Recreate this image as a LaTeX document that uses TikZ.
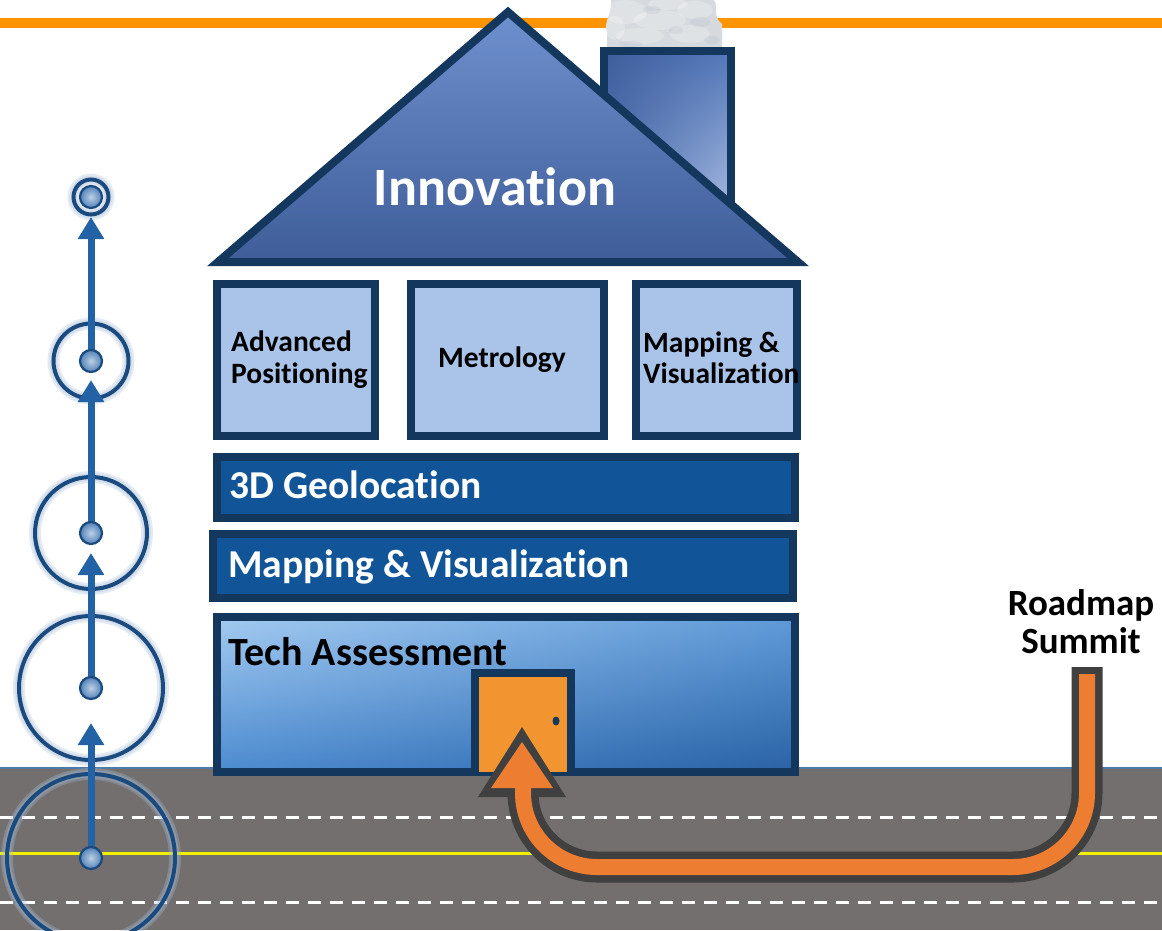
\documentclass[tikz,border=0pt]{standalone}
\usepackage{fontspec}
\setmainfont{Carlito}[Ligatures={NoCommon,NoContextual,NoRequired}, Contextuals=NoAlternate]
\usetikzlibrary{arrows.meta,shadings}

\definecolor{navy}{HTML}{14375E}
\definecolor{topline}{HTML}{FF9400}
\definecolor{roofA}{HTML}{6F90CE}
\definecolor{roofB}{HTML}{3E5D99}
\definecolor{chimA}{HTML}{3F5D9B}
\definecolor{chimB}{HTML}{5478BA}
\definecolor{chimC}{HTML}{B2C3E4}
\definecolor{paleblue}{HTML}{AAC3E8}
\definecolor{barblue}{HTML}{115598}
\definecolor{groundUL}{HTML}{A3CAF0}
\definecolor{groundUR}{HTML}{5F9AD8}
\definecolor{groundLL}{HTML}{4C8BD0}
\definecolor{groundLR}{HTML}{2A62A5}
\definecolor{roadgray}{HTML}{736F6E}
\definecolor{roadedge}{HTML}{4F79A8}
\definecolor{laneyellow}{HTML}{F0F000}
\definecolor{doororange}{HTML}{F29531}
\definecolor{arrorange}{HTML}{ED7D31}
\definecolor{arrdark}{HTML}{404040}
\definecolor{stepblue}{HTML}{2462A6}
\definecolor{ringnavy}{HTML}{1B4A7E}
\definecolor{ringglow}{HTML}{A9C0DA}
\definecolor{smokegray}{HTML}{D6DADE}
\definecolor{smokeblue}{HTML}{B3C0CC}

\newcommand\setfs[1]{\fontsize{#1}{#1}\selectfont\bfseries}
% keeps "t" and "i" as separate glyphs
\newcommand\sep{\kern0pt}

\tikzset{
  housepart/.style={draw=navy, line width=8pt, line join=miter},
  tile/.style={housepart, fill=paleblue},
  band/.style={housepart, fill=barblue},
  label/.style={inner sep=0pt, anchor=base west},
  darktext/.style={label, text=black},
  lighttext/.style={label, text=white},
  ring/.style={draw=ringnavy, line width=4pt},
  ringhalo/.style={draw=ringglow, opacity=0.3},
  ball/.style={circle, minimum size=22pt, inner sep=0pt, draw=ringnavy,
    line width=2.2pt, inner color=white!70!stepblue, outer color=stepblue!80!white},
  steparrow/.style={draw=stepblue, line width=7pt,
    -{Triangle[length=22pt, width=25pt]}},
  dash lane/.style={draw=white, line width=3pt, dash pattern=on 13pt off 9pt}
}

\begin{document}
\begin{tikzpicture}[x=1pt, y=-1pt]
\useasboundingbox (0,0) rectangle (1162,930);
\clip (0,0) rectangle (1162,930);
\fill[white] (0,0) rectangle (1162,930);

% header rule
\fill[topline] (0,18) rectangle (1162,28);

% road
\fill[roadgray] (0,768) rectangle (1162,930);
\draw[roadedge, line width=1.5pt] (0,768) -- (1162,768);
\draw[dash lane] (0,817) -- (1162,817);
\draw[dash lane] (0,902) -- (1162,902);
\draw[laneyellow, line width=3pt] (0,853) -- (1162,853);

% smoke above the chimney
\fill[smokegray] (607,47) -- (607,32) .. controls (603,22) and (613,12) .. (611,0)
  -- (714,0) .. controls (719,9) and (712,16) .. (722,24) -- (722,47) -- cycle;
\begin{scope}
  \clip (607,47) -- (607,32) .. controls (603,22) and (613,12) .. (611,0)
    -- (714,0) .. controls (719,9) and (712,16) .. (722,24) -- (722,47) -- cycle;
  \foreach \x/\y/\a/\b in {625/12/22/12, 660/20/26/10, 695/10/18/9, 640/36/24/8,
      690/34/20/9, 615/28/10/12, 668/4/20/6}
    \fill[white, opacity=0.22] (\x,\y) ellipse (\a pt and \b pt);
  \foreach \x/\y/\a/\b in {700/22/10/5, 652/10/9/4, 712/40/8/4, 630/44/12/3, 676/30/7/4}
    \fill[smokeblue, opacity=0.25] (\x,\y) ellipse (\a pt and \b pt);
\end{scope}

% chimney
\shadedraw[housepart, upper left=chimA, upper right=chimB,
  lower left=chimB, lower right=chimC]
  (604,230) -- (604,51) -- (731,51) -- (731,230) -- cycle;

% roof
\shadedraw[housepart, top color=roofA, bottom color=roofB]
  (218,262) -- (508,12) -- (798,262) -- cycle;
\node[lighttext, anchor=base] (innovation) at (495,205) {\setfs{54}Innovat\sep ion};

% upper row of rooms
\draw[tile] (217,284) rectangle (375,436);
\draw[tile] (411,284) rectangle (604,436);
\draw[tile] (636,284) rectangle (797,436);
\node[darktext] (adv1) at (231,351) {\setfs{29.5}Advanced};
\node[darktext] (adv2) at (231,383) {\setfs{29.5}Posit\sep ioning};
\node[darktext] (metro) at (438,367) {\setfs{29.5}Metrology};
\node[darktext] (map1) at (643,352) {\setfs{29.5}Mapping \&};
\node[darktext] (map2) at (643,383) {\setfs{29.5}Visualizat\sep ion};

% floors
\draw[band] (217,457) rectangle (795,518);
\node[lighttext] (geo) at (229,498) {\setfs{39.5}3D Geolocat\sep ion};
\draw[band] (213,534) rectangle (793,598);
\node[lighttext] (mapvis) at (228,577) {\setfs{39.5}Mapping \& Visualizat\sep ion};

% ground floor with door
\shadedraw[housepart, upper left=groundUL, upper right=groundUR,
  lower left=groundLL, lower right=groundLR]
  (217,617) rectangle (795,772);
\node[darktext] (tech) at (228,665) {\setfs{40}Tech Assessment};
\draw[housepart, fill=doororange] (475,772) -- (475,673) -- (571,673) -- (571,772);
\fill[navy] (556,721) ellipse (3.5 and 4.5);

% route to the summit
\coordinate (summit) at (1087,667);
\coordinate (summitin) at (1087,674);
\coordinate (turnR) at (1087,867);
\coordinate (turnL) at (523,867);
\coordinate (headbase) at (523,790);
\coordinate (headin) at (523,785);
\draw[arrdark, line width=31pt, rounded corners=74pt]
  (summit) -- (turnR) -- (turnL) -- (headbase);
\fill[arrdark] (522,727) -- (566,797) -- (478,797) -- cycle;
\draw[arrorange, line width=16pt, rounded corners=74pt]
  (summitin) -- (turnR) -- (turnL) -- (headin);
\fill[arrorange] (522,742) -- (553,788) -- (491,788) -- cycle;
\node[darktext, anchor=base] (goal1) at (1081,615) {\setfs{37}Roadmap};
\node[darktext, anchor=base] (goal2) at (1081,653) {\setfs{37}Summit};

% growth steps on the left
\coordinate (c1) at (91,197);
\coordinate (c2) at (91,361);
\coordinate (c3) at (91,533);
\coordinate (c4) at (91,688);
\coordinate (c5) at (91,858);
\foreach \c/\r in {c1/17.5, c2/37.5, c3/56, c4/72, c5/84} {
  \draw[ringhalo, line width=12pt] (\c) circle (\r);
  \draw[ringhalo, line width=8pt] (\c) circle (\r);
  \draw[ring] (\c) circle (\r);
}
\draw[steparrow, shorten >=35pt] (c5) -- (c4);
\draw[steparrow, shorten >=20pt] (c4) -- (c3);
\draw[steparrow, shorten >=19pt] (c3) -- (c2);
\draw[steparrow, shorten >=20pt] (c2) -- (c1);
\foreach \c in {c1,c2,c3,c4,c5} \node[ball] (b\c) at (\c) {};
\end{tikzpicture}
\end{document}
